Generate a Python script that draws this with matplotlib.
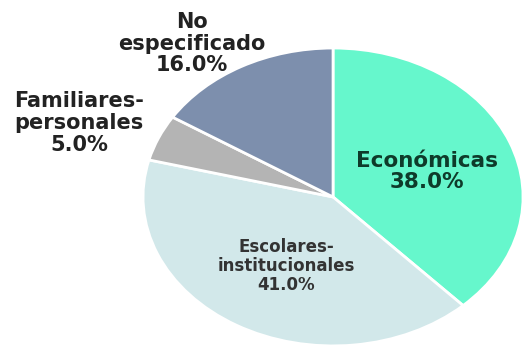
import matplotlib
matplotlib.use("Agg")
import matplotlib.pyplot as plt

categories = ["Económicas", "Escolares-\ninstitucionales", "Familiares-\npersonales", "No\nespecificado"]
values = [38.0, 41.0, 5.0, 16.0]
colors = ["#66F7CC", "#D2E8EA", "#B4B4B4", "#7D8FAD"]

fig = plt.figure(figsize=(5.22, 3.48), dpi=100)
ax = fig.add_axes([0.274, 0.006, 0.728, 0.856])
wedges, _ = ax.pie(values, colors=colors, startangle=90, counterclock=False,
                   wedgeprops=dict(edgecolor="white", linewidth=2))
ax.set_aspect("auto")
ax.set_xlim(-1, 1)
ax.set_ylim(-1, 1)

labels = [f"{c}\n{v:.1f}%" for c, v in zip(categories, values)]
# label placement (axes-fraction coords) and styles
pos = [(0.747, 0.585), (0.376, 0.268), (-0.168, 0.748), (0.129, 1.015)]
sizes = [15.5, 12, 15, 15]
spacing = [1.1, 1.05, 1.1, 1.1]
tcolors = ["#0E3B2A", "#333333", "#222222", "#222222"]
for lab, p, s, c, ls in zip(labels, pos, sizes, tcolors, spacing):
    ax.text(p[0], p[1], lab, transform=ax.transAxes, ha="center", va="center",
            fontsize=s, fontweight="bold", color=c, family="DejaVu Sans",
            linespacing=ls, clip_on=False)

fig.savefig("out.png", dpi=100)
